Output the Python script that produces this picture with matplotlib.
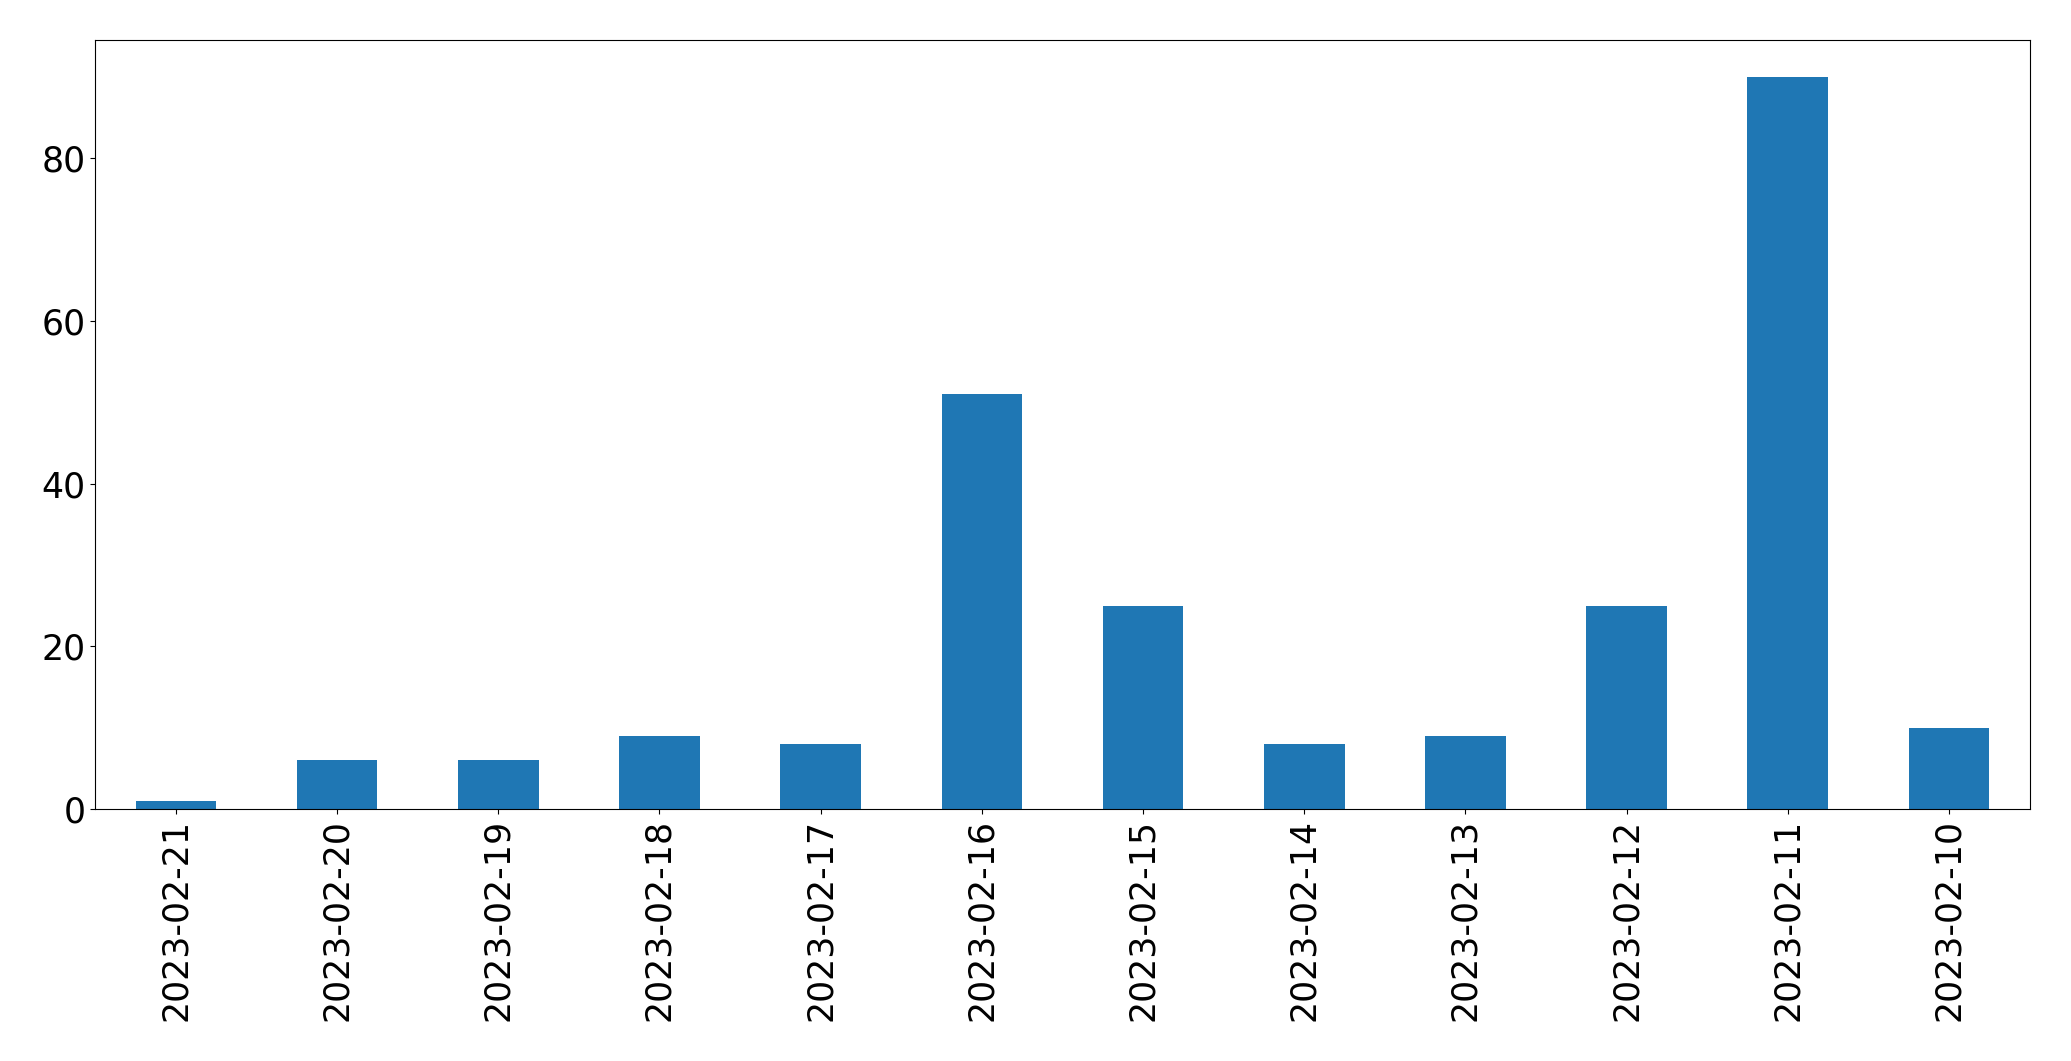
import matplotlib
matplotlib.use("Agg")
import matplotlib.pyplot as plt
import numpy as np

dates = ["2023-02-21", "2023-02-20", "2023-02-19", "2023-02-18", "2023-02-17", "2023-02-16",
         "2023-02-15", "2023-02-14", "2023-02-13", "2023-02-12", "2023-02-11", "2023-02-10"]
counts = [1, 6, 6, 9, 8, 51, 25, 8, 9, 25, 90, 10]


def main():
    fig, ax = plt.subplots(figsize=(20.71, 10.61), dpi=100)
    x = np.arange(len(dates))
    ax.bar(x, counts, width=0.5, color="#1f77b4")
    ax.set_xticks(x)
    ax.set_xticklabels(dates, rotation=90)
    ax.set_xlim(-0.5, len(dates) - 0.5)
    ax.set_ylim(0, max(counts) * 1.05)
    ax.tick_params(labelsize=25)
    fig.subplots_adjust(left=0.046, right=0.980, top=0.962, bottom=0.2375)
    fig.savefig("out.png", dpi=100)


if __name__ == "__main__":
    main()
